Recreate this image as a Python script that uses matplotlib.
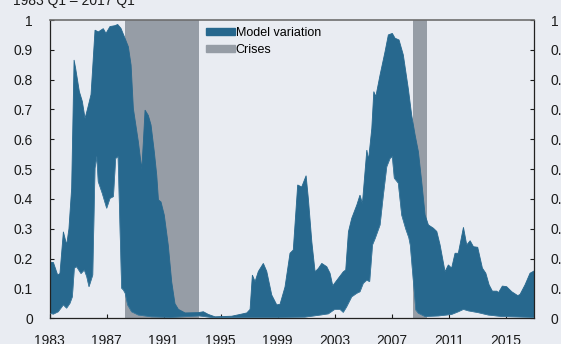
import matplotlib; matplotlib.use("Agg")
import matplotlib.pyplot as plt
import numpy as np
from matplotlib.patches import Patch
from matplotlib.ticker import FuncFormatter

plt.rcParams["font.family"] = ["Liberation Sans", "DejaVu Sans"]

BG = "#E9ECF2"; BLUE = "#27688E"; GREY = "#969DA6"; INK = "#1A1A1A"

# upper edge of the model band (year, value)
upper_t = [1983.00, 1983.26, 1983.56, 1983.72, 1983.96, 1984.19, 1984.35, 1984.54, 1984.71, 1984.82,
           1985.08, 1985.29, 1985.48, 1985.66, 1985.90, 1986.18, 1986.41, 1986.76, 1986.95, 1987.23,
           1987.58, 1987.77, 1988.00, 1988.29, 1988.52, 1988.71, 1988.87, 1989.22, 1989.46, 1989.57,
           1989.69, 1989.92, 1990.11, 1990.34, 1990.51, 1990.63, 1990.81, 1991.04, 1991.32, 1991.56,
           1991.79, 1992.03, 1992.50, 1993.43, 1993.78, 1994.13, 1994.60, 1995.77, 1996.36, 1996.83,
           1997.06, 1997.22, 1997.41, 1997.64, 1997.99, 1998.23, 1998.58, 1998.93, 1999.16, 1999.51,
           1999.86, 2000.09, 2000.40, 2000.68, 2000.99, 2001.15, 2001.39, 2001.62, 2001.85, 2002.09,
           2002.44, 2002.67, 2002.86, 2003.25, 2003.60, 2003.77, 2003.96, 2004.19, 2004.55, 2004.77,
           2004.94, 2005.25, 2005.37, 2005.60, 2005.74, 2005.88, 2006.18, 2006.53, 2006.76, 2007.04,
           2007.23, 2007.51, 2007.81, 2008.16, 2008.40, 2008.64, 2008.87, 2009.10, 2009.34, 2009.57,
           2009.92, 2010.16, 2010.39, 2010.74, 2010.97, 2011.20, 2011.44, 2011.67, 2012.03, 2012.26,
           2012.50, 2012.73, 2013.03, 2013.36, 2013.60, 2013.83, 2014.06, 2014.37, 2014.49, 2014.76,
           2015.06, 2015.42, 2015.84, 2016.00, 2016.35, 2016.70, 2017.00]
upper_v = [0.188, 0.187, 0.145, 0.150, 0.290, 0.246, 0.300, 0.436, 0.866, 0.838,
           0.760, 0.727, 0.670, 0.703, 0.750, 0.966, 0.960, 0.971, 0.955, 0.978,
           0.981, 0.985, 0.972, 0.938, 0.910, 0.849, 0.703, 0.592, 0.500, 0.590,
           0.698, 0.680, 0.648, 0.558, 0.480, 0.397, 0.390, 0.346, 0.245, 0.122,
           0.049, 0.030, 0.018, 0.019, 0.022, 0.013, 0.005, 0.007, 0.013, 0.018,
           0.030, 0.145, 0.123, 0.157, 0.184, 0.157, 0.078, 0.045, 0.047, 0.105,
           0.218, 0.229, 0.447, 0.440, 0.478, 0.400, 0.257, 0.156, 0.167, 0.184,
           0.173, 0.151, 0.109, 0.134, 0.156, 0.162, 0.290, 0.335, 0.380, 0.413,
           0.385, 0.564, 0.531, 0.637, 0.760, 0.743, 0.816, 0.894, 0.950, 0.955,
           0.939, 0.933, 0.883, 0.770, 0.680, 0.614, 0.558, 0.458, 0.346, 0.313,
           0.302, 0.291, 0.246, 0.156, 0.179, 0.168, 0.218, 0.218, 0.305, 0.246,
           0.260, 0.240, 0.238, 0.168, 0.151, 0.112, 0.091, 0.091, 0.086, 0.108,
           0.106, 0.089, 0.076, 0.080, 0.112, 0.151, 0.159]

# lower edge of the model band
lower_t = [1983.00, 1983.26, 1983.60, 1983.96, 1984.19, 1984.42, 1984.59, 1984.73, 1984.89, 1985.20,
           1985.43, 1985.60, 1985.76, 1986.02, 1986.18, 1986.30, 1986.41, 1986.69, 1987.00, 1987.23,
           1987.47, 1987.63, 1987.80, 1988.05, 1988.17, 1988.30, 1988.47, 1988.75, 1989.22, 1990.15,
           1991.50, 1993.50, 1994.50, 1996.80, 1999.00, 2000.90, 2001.85, 2002.55, 2003.00, 2003.37,
           2003.60, 2003.83, 2004.19, 2004.55, 2004.77, 2005.00, 2005.25, 2005.45, 2005.65, 2005.84,
           2006.18, 2006.41, 2006.65, 2006.88, 2007.04, 2007.18, 2007.46, 2007.70, 2007.98, 2008.20,
           2008.30, 2008.52, 2008.69, 2008.87, 2009.34, 2010.28, 2011.20, 2011.67, 2012.03, 2012.38,
           2013.07, 2013.78, 2014.72, 2017.00]
lower_v = [0.017, 0.014, 0.022, 0.045, 0.034, 0.050, 0.072, 0.168, 0.173, 0.150,
           0.162, 0.140, 0.106, 0.145, 0.503, 0.542, 0.458, 0.419, 0.369, 0.402,
           0.408, 0.536, 0.542, 0.101, 0.095, 0.084, 0.045, 0.022, 0.011, 0.005,
           0.003, 0.008, 0.002, 0.003, 0.003, 0.004, 0.010, 0.015, 0.030, 0.030,
           0.020, 0.038, 0.072, 0.084, 0.089, 0.117, 0.128, 0.123, 0.246, 0.268,
           0.313, 0.413, 0.508, 0.536, 0.542, 0.470, 0.453, 0.346, 0.300, 0.270,
           0.246, 0.123, 0.028, 0.017, 0.006, 0.008, 0.013, 0.022, 0.030, 0.025,
           0.019, 0.011, 0.006, 0.003]

crisis_start = [1988.25, 2008.5]
crisis_end = [1993.5, 2009.5]

years = [1983, 1987, 1991, 1995, 1999, 2003, 2007, 2011, 2015]
yticks = [0, 0.1, 0.2, 0.3, 0.4, 0.5, 0.6, 0.7, 0.8, 0.9, 1]

fig = plt.figure(figsize=(5.61, 3.44), dpi=100, facecolor=BG)
ax = fig.add_axes([49.7/561, 25.7/344, 484.6/561, 298.3/344], facecolor=BG)

# crisis periods sit behind the band
for s, e in zip(crisis_start, crisis_end):
    ax.axvspan(s, e, color=GREY, lw=0, zorder=1)

ax.fill(np.r_[upper_t, lower_t[::-1]], np.r_[upper_v, lower_v[::-1]],
        facecolor=BLUE, edgecolor=BLUE, lw=0.6, zorder=2)
ax.plot(lower_t, lower_v, color="#4D86A8", lw=0.5, alpha=0.6, zorder=3)

ax.set_xlim(1983, 2017); ax.set_ylim(0, 1)
ax.set_xticks(years); ax.set_yticks(yticks)
ax.yaxis.set_major_formatter(FuncFormatter(lambda v, p: "%g" % v))
ax.tick_params(axis="y", direction="in", length=3, width=0.8, colors=INK, labelsize=10,
               right=True, labelright=True, pad=12)
ax.tick_params(axis="x", direction="in", length=3, width=0.8, colors=INK, labelsize=10, pad=11)
for side in ("left", "bottom", "right"):
    ax.spines[side].set_color("#222"); ax.spines[side].set_linewidth(0.9)
ax.spines["top"].set_color("#6E6E6E"); ax.spines["top"].set_linewidth(1.2)

handles = [Patch(facecolor=BLUE, edgecolor=BLUE, label="Model variation"),
           Patch(facecolor=GREY, edgecolor=GREY, label="Crises")]
ax.legend(handles=handles, loc="upper left", bbox_to_anchor=(0.322, 0.977), frameon=False,
          fontsize=9, handlelength=2.35, handleheight=0.5, handletextpad=0.05,
          labelspacing=0.4, borderaxespad=0, borderpad=0)

fig.text(13/561, 1 - 4.5/344, "1983 Q1 – 2017 Q1", fontsize=10, color=INK, ha="left", va="baseline")
fig.savefig("out.png", dpi=100, facecolor=BG)
